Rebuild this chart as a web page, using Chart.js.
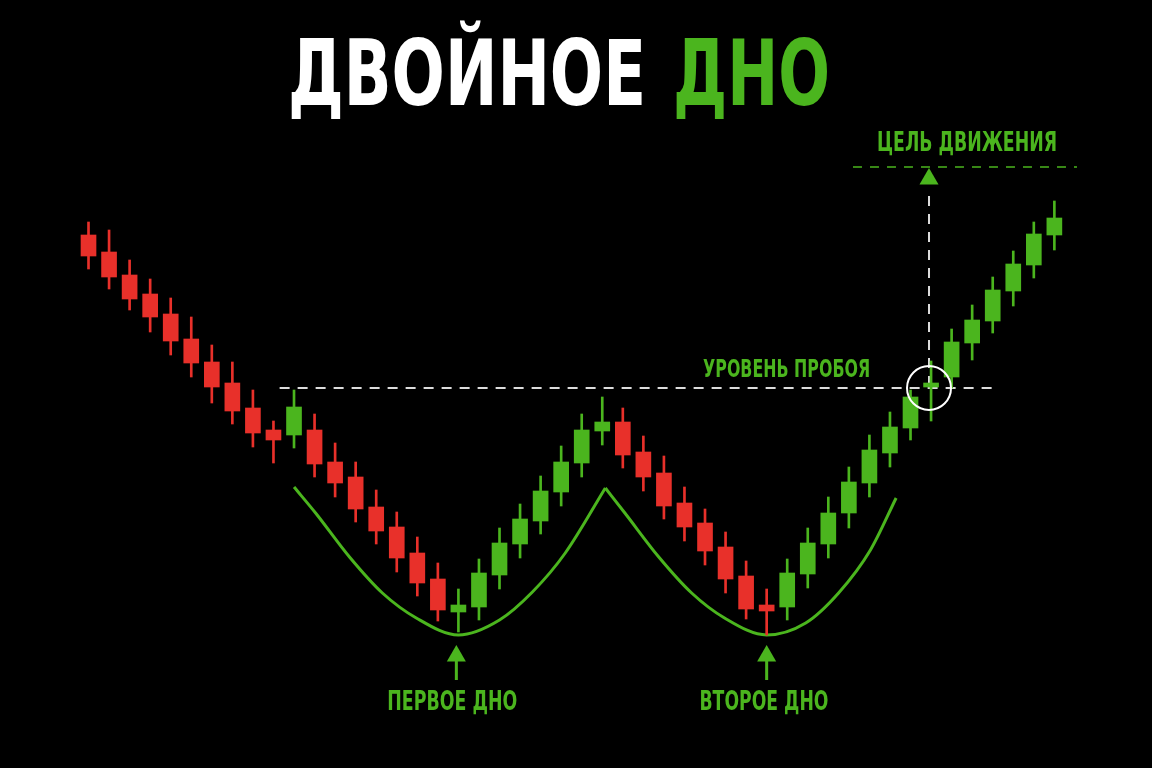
<!DOCTYPE html>
<html>
<head>
<meta charset="utf-8">
<title>Двойное дно</title>
<script src="https://cdn.jsdelivr.net/npm/chart.js@4.4.1/dist/chart.umd.min.js"></script>
<style>
  html, body { margin: 0; padding: 0; background: #000; overflow: hidden; }
  canvas { display: block; }
</style>
</head>
<body>
<canvas id="chart" width="1152" height="768"></canvas>
<script>
// price data, one value per candle (candle 1..48)
const opens  = [266.5, 258, 246.5, 237, 227, 214.5, 203, 192.5, 180, 169,
                166.5, 169, 153, 145.5, 130.5, 120.5, 107.5, 94.5, 78, 80.5,
                96.5, 112, 123.5, 138, 152.5, 168.5, 173, 158, 147.5, 132.5,
                122.5, 110.5, 96, 81.5, 80.5, 97, 112, 127.5, 142.5, 157.5,
                170, 190.5, 195.5, 212.5, 223.5, 238.5, 251.5, 266.5];
const closes = [256, 245.5, 234.5, 225.5, 213.5, 202.5, 190.5, 178.5, 167.5, 164,
                180.5, 152, 142.5, 129.5, 118.5, 105, 92.5, 79, 81.5, 97.5,
                112.5, 124.5, 138.5, 153, 169, 173, 156.5, 145.5, 131, 120.5,
                108.5, 94.5, 79.5, 78.5, 97.5, 112.5, 127.5, 143, 159, 170.5,
                185.5, 192.5, 213, 224, 239, 252, 267, 275];
const highs  = [273, 269, 254, 244.5, 235, 225.5, 211.5, 203, 189, 173.5,
                189, 177, 162.5, 153, 139, 128, 115.5, 102.5, 89.5, 104.5,
                120, 132, 146, 161, 177, 185.5, 180, 166, 156, 140.5,
                129.5, 118, 103.5, 89.5, 104.5, 120, 135.5, 150.5, 166.5, 178,
                189, 203.5, 219.5, 231.5, 245.5, 258.5, 273, 283.5];
const lows   = [249.5, 239.5, 229, 218, 206.5, 195.5, 182.5, 172, 160.5, 152.5,
                160, 145.5, 135.5, 123, 112, 98, 86, 73.5, 68, 74,
                89.5, 105, 117, 131, 145.5, 161.5, 150, 138.5, 124.5, 113.5,
                101.5, 87.5, 74.5, 66.5, 74, 90, 105, 120, 135.5, 150.5,
                164, 173.5, 190, 204, 217.5, 231, 245, 259];

// the two "bottoms" drawn under the candles (x in candle units)
const firstBottomX  = [11.0, 12.05, 13.7, 15.3, 16.95, 19, 21, 22.6, 24.2, 26.15];
const firstBottomY  = [140.5, 127.5, 105.5, 87.5, 75, 66.5, 74, 88, 107.5, 140];
const secondBottomX = [26.15, 27.1, 28.75, 30.35, 31.95, 34, 35.9, 37.5, 39.05, 40.3];
const secondBottomY = [140, 127.5, 105.5, 87.5, 75, 66.5, 72.5, 87.5, 109, 135];

// levels
const breakoutLevel = 190;
const breakoutFrom = 10.3, breakoutTo = 45.1;
const targetLevel = 300.5;
const targetFrom = 38.2, targetTo = 49.1;
const breakoutCandle = 41.9;
const bottomCandles = [18.9, 34];

// annotation texts
const noteText = ['ПЕРВОЕ ДНО', 'ВТОРОЕ ДНО', 'УРОВЕНЬ ПРОБОЯ', 'ЦЕЛЬ ДВИЖЕНИЯ'];
const noteX = [18.7, 33.87, 34.97, 43.75];
const noteY = [29, 29, 195.5, 308.5];

const GREEN = '#4bb51e';
const RED = '#e8302a';
const WHITE = '#ffffff';
const DASH = '#dcdcdc';
const FONT = '"DejaVu Sans Condensed", "Liberation Sans Narrow", "DejaVu Sans", sans-serif';

const idx = opens.map((_, i) => i + 1);
const candleColor = opens.map((o, i) => closes[i] >= o ? GREEN : RED);

function pts(xs, ys) { return xs.map((x, i) => ({ x: x, y: ys[i] })); }

function drawFitted(ctx, text, x, y, size, width, color, align) {
    ctx.save();
    ctx.font = 'bold ' + size + 'px ' + FONT;
    const w = ctx.measureText(text).width;
    ctx.translate(x, y);
    ctx.scale(width / w, 1);
    ctx.fillStyle = color;
    ctx.textAlign = align;
    ctx.textBaseline = 'alphabetic';
    ctx.fillText(text, 0, 0);
    ctx.restore();
}

const bgPlugin = {
    id: 'bg',
    beforeDraw(chart) {
        const ctx = chart.ctx;
        ctx.save();
        ctx.fillStyle = '#000';
        ctx.fillRect(0, 0, chart.width, chart.height);
        ctx.restore();
    }
};

const textPlugin = {
    id: 'texts',
    afterDraw(chart) {
        const ctx = chart.ctx;
        const xs = chart.scales.x, ys = chart.scales.y;
        // title
        drawFitted(ctx, 'ДВОЙНОЕ', 288, 105, 90, 358, WHITE, 'left');
        drawFitted(ctx, 'ДНО', 673, 105, 90, 157, GREEN, 'left');
        // notes
        const sizes = [26, 26, 25, 26];
        const widths = [130, 129, 167, 180];
        noteText.forEach((t, i) => {
            drawFitted(ctx, t, xs.getPixelForValue(noteX[i]), ys.getPixelForValue(noteY[i]),
                sizes[i], widths[i], GREEN, 'center');
        });
    }
};

new Chart(document.getElementById('chart'), {
    type: 'bar',
    data: {
        datasets: [
            {
                label: 'body',
                data: idx.map(i => ({ x: i, y: [opens[i - 1], closes[i - 1]] })),
                backgroundColor: candleColor,
                barThickness: 15,
                grouped: false,
                borderSkipped: false,
                order: 2
            },
            {
                label: 'wick',
                data: idx.map(i => ({ x: i, y: [lows[i - 1], highs[i - 1]] })),
                backgroundColor: candleColor,
                barThickness: 2,
                grouped: false,
                order: 3
            },
            {
                type: 'line',
                label: 'first bottom',
                data: pts(firstBottomX, firstBottomY),
                borderColor: GREEN,
                borderWidth: 3,
                cubicInterpolationMode: 'monotone',
                pointRadius: 0,
                order: 4
            },
            {
                type: 'line',
                label: 'second bottom',
                data: pts(secondBottomX, secondBottomY),
                borderColor: GREEN,
                borderWidth: 3,
                cubicInterpolationMode: 'monotone',
                pointRadius: 0,
                order: 4
            },
            {
                type: 'line',
                label: 'breakout',
                data: [{ x: breakoutFrom, y: breakoutLevel }, { x: breakoutTo, y: breakoutLevel }],
                borderColor: DASH,
                borderWidth: 2,
                borderDash: [10, 8],
                pointRadius: 0,
                order: 5
            },
            {
                type: 'line',
                label: 'target',
                data: [{ x: targetFrom, y: targetLevel }, { x: targetTo, y: targetLevel }],
                borderColor: GREEN,
                borderWidth: 1.5,
                borderDash: [9, 8],
                pointRadius: 0,
                order: 5
            },
            {
                type: 'line',
                label: 'move',
                data: [{ x: breakoutCandle, y: 286 }, { x: breakoutCandle, y: breakoutLevel }],
                borderColor: DASH,
                borderWidth: 2,
                borderDash: [10, 8],
                pointRadius: 0,
                order: 5
            },
            {
                type: 'scatter',
                label: 'target arrow',
                data: [{ x: breakoutCandle, y: 294.5 }],
                pointStyle: 'triangle',
                pointRadius: 11,
                backgroundColor: GREEN,
                borderWidth: 0,
                order: 1
            },
            {
                type: 'scatter',
                label: 'breakout circle',
                data: [{ x: breakoutCandle, y: breakoutLevel }],
                pointStyle: 'circle',
                pointRadius: 22,
                backgroundColor: 'rgba(0,0,0,0)',
                borderColor: WHITE,
                borderWidth: 2,
                order: 0
            },
            {
                type: 'line',
                label: 'first arrow',
                data: [{ x: bottomCandles[0], y: 54 }, { x: bottomCandles[0], y: 44 }],
                borderColor: GREEN,
                borderWidth: 3,
                pointRadius: 0,
                order: 1
            },
            {
                type: 'line',
                label: 'second arrow',
                data: [{ x: bottomCandles[1], y: 54 }, { x: bottomCandles[1], y: 44 }],
                borderColor: GREEN,
                borderWidth: 3,
                pointRadius: 0,
                order: 1
            },
            {
                type: 'scatter',
                label: 'bottom heads',
                data: bottomCandles.map(x => ({ x: x, y: 56 })),
                pointStyle: 'triangle',
                pointRadius: 11,
                backgroundColor: GREEN,
                borderWidth: 0,
                order: 1
            }
        ]
    },
    options: {
        responsive: false,
        animation: false,
        events: [],
        layout: { padding: 0, autoPadding: false },
        plugins: {
            legend: { display: false },
            tooltip: { enabled: false },
            title: { display: false }
        },
        scales: {
            x: { type: 'linear', min: -3.307, max: 52.751, offset: false, display: false },
            y: { type: 'linear', min: 0, max: 384, display: false }
        }
    },
    plugins: [bgPlugin, textPlugin]
});
</script>
</body>
</html>
